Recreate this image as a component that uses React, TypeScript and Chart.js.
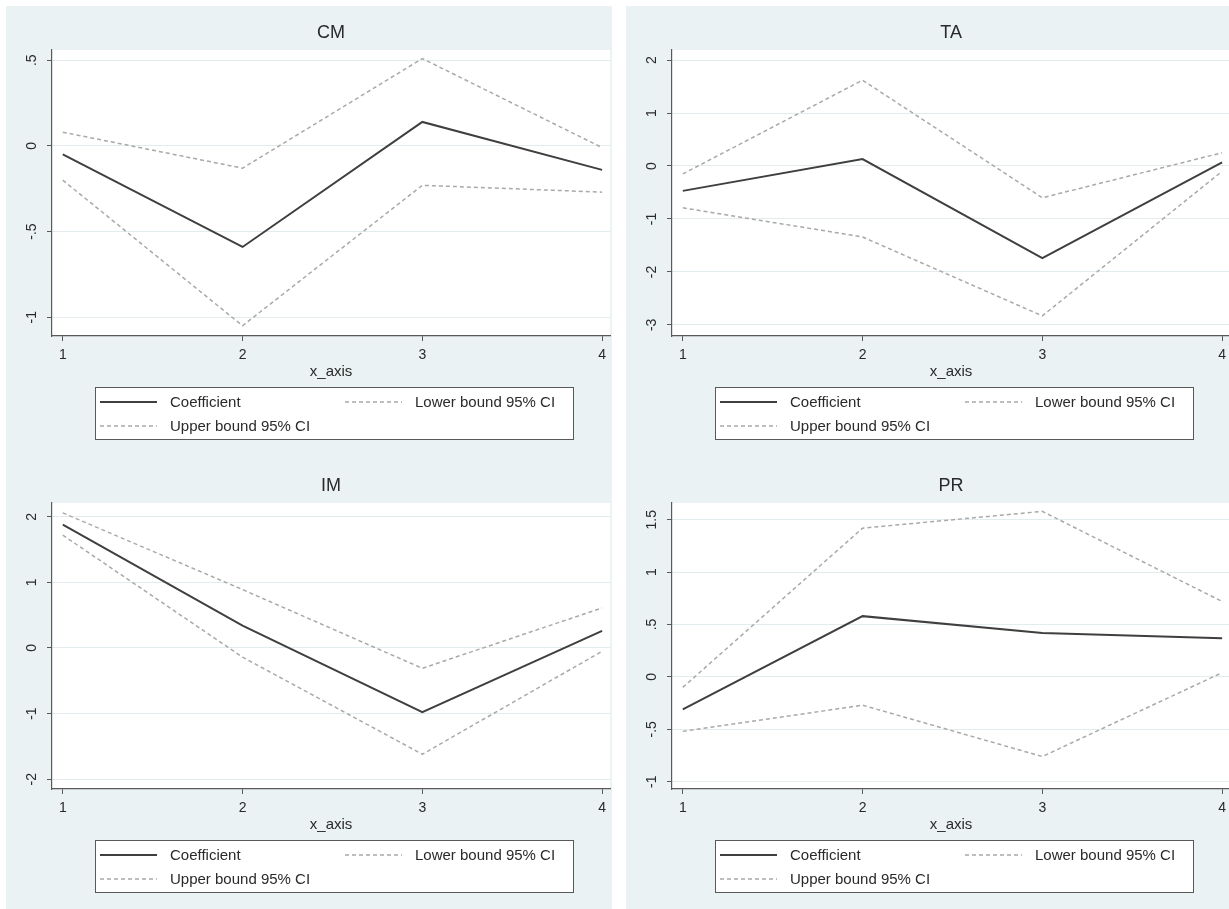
import React, { useEffect, useRef } from "react";
import { Chart, registerables } from "chart.js";

Chart.register(...registerables);

const FONT = "'Liberation Sans', Arial, Helvetica, sans-serif";

// ---------- data ----------
const xValues = [1, 2, 3, 4];
const xTickLabels = ["1", "2", "3", "4"];
const seriesLabels = ["Coefficient", "Lower bound 95% CI", "Upper bound 95% CI"];
const xAxisTitle = "x_axis";

const cmTitle = "CM";
const cmCoef = [-0.05, -0.59, 0.14, -0.14];
const cmLower = [-0.2, -1.05, -0.23, -0.27];
const cmUpper = [0.08, -0.13, 0.51, -0.01];
const cmTicks = [-1, -0.5, 0, 0.5];
const cmTickLabels = ["-1", "-.5", "0", ".5"];
const cmRange = [-1.11, 0.56];

const taTitle = "TA";
const taCoef = [-0.47, 0.13, -1.74, 0.07];
const taLower = [-0.79, -1.34, -2.83, -0.1];
const taUpper = [-0.15, 1.62, -0.6, 0.25];
const taTicks = [-3, -2, -1, 0, 1, 2];
const taTickLabels = ["-3", "-2", "-1", "0", "1", "2"];
const taRange = [-3.21, 2.19];

const imTitle = "IM";
const imCoef = [1.88, 0.34, -0.98, 0.26];
const imLower = [1.72, -0.14, -1.62, -0.05];
const imUpper = [2.06, 0.89, -0.31, 0.61];
const imTicks = [-2, -1, 0, 1, 2];
const imTickLabels = ["-2", "-1", "0", "1", "2"];
const imRange = [-2.15, 2.21];

const prTitle = "PR";
const prCoef = [-0.31, 0.58, 0.42, 0.37];
const prLower = [-0.52, -0.27, -0.76, 0.04];
const prUpper = [-0.1, 1.42, 1.58, 0.72];
const prTicks = [-1, -0.5, 0, 0.5, 1, 1.5];
const prTickLabels = ["-1", "-.5", "0", ".5", "1", "1.5"];
const prRange = [-1.07, 1.66];

const xRange = [0.94, 4.045];

// ---------- styles ----------
const PANEL_BG = "#EAF2F3";
const AXIS_COLOR = "#595959";
const GRID_COLOR = "#E3EBEE";
const TEXT_COLOR = "#2a2a2a";
const COEF_COLOR = "#3f3f3f";
const CI_COLOR = "#a9a9a9";
const CI_DASH = [4, 3];

type PanelCfg = {
  title: string;
  coef: number[];
  lower: number[];
  upper: number[];
  ticks: number[];
  tickLabels: string[];
  range: number[];
};

const panels: { cfg: PanelCfg; left: number; top: number }[] = [
  { cfg: { title: cmTitle, coef: cmCoef, lower: cmLower, upper: cmUpper, ticks: cmTicks, tickLabels: cmTickLabels, range: cmRange }, left: 6, top: 6 },
  { cfg: { title: taTitle, coef: taCoef, lower: taLower, upper: taUpper, ticks: taTicks, tickLabels: taTickLabels, range: taRange }, left: 626, top: 6 },
  { cfg: { title: imTitle, coef: imCoef, lower: imLower, upper: imUpper, ticks: imTicks, tickLabels: imTickLabels, range: imRange }, left: 6, top: 459 },
  { cfg: { title: prTitle, coef: prCoef, lower: prLower, upper: prUpper, ticks: prTicks, tickLabels: prTickLabels, range: prRange }, left: 626, top: 459 },
];

const toPoints = (ys: number[]) => xValues.map((x, i) => ({ x, y: ys[i] }));

const stataPlugin = {
  id: "stataDecor",
  beforeDraw(chart: any) {
    const { ctx, chartArea: a } = chart;
    ctx.save();
    ctx.fillStyle = "#ffffff";
    ctx.fillRect(a.left, a.top, a.right - a.left, a.bottom - a.top);
    ctx.restore();
  },
  afterDraw(chart: any, _args: any, opts: any) {
    const { ctx, chartArea: a } = chart;
    const cx = (a.left + a.right) / 2;
    ctx.save();
    // title
    ctx.fillStyle = TEXT_COLOR;
    ctx.textAlign = "center";
    ctx.textBaseline = "middle";
    ctx.font = `18px ${FONT}`;
    ctx.fillText(opts.title, cx, 27);

    // rotated y tick labels
    const ys = chart.scales.y;
    ctx.font = `14px ${FONT}`;
    ys.ticks.forEach((t: any, i: number) => {
      const py = ys.getPixelForValue(t.value);
      const idx = opts.tickValues.indexOf(t.value);
      const label = idx >= 0 ? opts.tickLabels[idx] : String(t.value);
      ctx.save();
      ctx.translate(a.left - 20, py);
      ctx.rotate(-Math.PI / 2);
      ctx.fillText(label, 0, 0);
      ctx.restore();
    });

    // x axis title
    ctx.font = `15px ${FONT}`;
    ctx.fillText(opts.xTitle, cx, a.bottom + 36);

    // legend box
    const bx = 89, by = a.bottom + 51, bw = 478, bh = 52;
    ctx.fillStyle = "#ffffff";
    ctx.fillRect(bx, by, bw, bh);
    ctx.strokeStyle = AXIS_COLOR;
    ctx.lineWidth = 1;
    ctx.strokeRect(bx + 0.5, by + 0.5, bw, bh);

    const slots = [
      { sx: bx + 5, row: 0 },
      { sx: bx + 250, row: 0 },
      { sx: bx + 5, row: 1 },
    ];
    ctx.font = `15px ${FONT}`;
    ctx.textAlign = "left";
    chart.data.datasets.forEach((ds: any, i: number) => {
      const s = slots[i];
      if (!s) return;
      const y = by + 15 + s.row * 24;
      ctx.save();
      ctx.strokeStyle = ds.borderColor;
      ctx.lineWidth = ds.borderWidth;
      ctx.setLineDash(ds.borderDash || []);
      ctx.beginPath();
      ctx.moveTo(s.sx, y);
      ctx.lineTo(s.sx + 57, y);
      ctx.stroke();
      ctx.restore();
      ctx.fillStyle = TEXT_COLOR;
      ctx.fillText(ds.label, s.sx + 70, y + 1);
    });
    ctx.restore();
  },
};

function Panel({ cfg, left, top }: { cfg: PanelCfg; left: number; top: number }) {
  const ref = useRef<HTMLCanvasElement | null>(null);
  useEffect(() => {
    if (!ref.current) return;
    const chart = new Chart(ref.current, {
      type: "line",
      data: {
        datasets: [
          { label: seriesLabels[0], data: toPoints(cfg.coef), borderColor: COEF_COLOR, borderWidth: 2, pointRadius: 0, tension: 0, fill: false },
          { label: seriesLabels[1], data: toPoints(cfg.lower), borderColor: CI_COLOR, borderWidth: 1.5, borderDash: CI_DASH, pointRadius: 0, tension: 0, fill: false },
          { label: seriesLabels[2], data: toPoints(cfg.upper), borderColor: CI_COLOR, borderWidth: 1.5, borderDash: CI_DASH, pointRadius: 0, tension: 0, fill: false },
        ],
      },
      options: {
        animation: false,
        responsive: false,
        maintainAspectRatio: false,
        layout: { padding: { top: 44, left: 0, right: 0, bottom: 0 } },
        plugins: {
          legend: { display: false },
          title: { display: false },
          tooltip: { enabled: false },
          stataDecor: { title: cfg.title, tickValues: cfg.ticks, tickLabels: cfg.tickLabels, xTitle: xAxisTitle },
        } as any,
        scales: {
          x: {
            type: "linear",
            min: xRange[0],
            max: xRange[1],
            afterBuildTicks: (s: any) => {
              s.ticks = xValues.map((v) => ({ value: v }));
            },
            afterFit: (s: any) => {
              s.height = 123;
            },
            ticks: {
              color: TEXT_COLOR,
              font: { family: FONT, size: 14 },
              padding: 6,
              maxRotation: 0,
              autoSkip: false,
              callback: (v: any) => {
                const i = xValues.indexOf(Number(v));
                return i >= 0 ? xTickLabels[i] : "";
              },
            },
            grid: { color: "rgba(0,0,0,0)", tickColor: AXIS_COLOR, tickLength: 5, drawTicks: true },
            border: { display: true, color: AXIS_COLOR, width: 1.2 },
          },
          y: {
            type: "linear",
            min: cfg.range[0],
            max: cfg.range[1],
            afterBuildTicks: (s: any) => {
              s.ticks = cfg.ticks.map((v) => ({ value: v }));
            },
            afterFit: (s: any) => {
              s.width = 46;
            },
            ticks: { display: false },
            grid: { color: GRID_COLOR, tickColor: AXIS_COLOR, tickLength: 5, drawTicks: true },
            border: { display: true, color: AXIS_COLOR, width: 1.2 },
          },
        },
      } as any,
      plugins: [stataPlugin],
    });
    return () => chart.destroy();
  }, []);
  return (
    <div style={{ position: "absolute", left, top, width: 606, height: 453, background: PANEL_BG }}>
      <canvas ref={ref} width={606} height={453} style={{ display: "block", width: 606, height: 453 }} />
    </div>
  );
}

export default function App() {
  return (
    <div style={{ position: "fixed", left: 0, top: 0, width: 1229, height: 909, overflow: "hidden", background: "#ffffff" }}>
      {panels.map((p, i) => (
        <Panel key={i} cfg={p.cfg} left={p.left} top={p.top} />
      ))}
    </div>
  );
}
